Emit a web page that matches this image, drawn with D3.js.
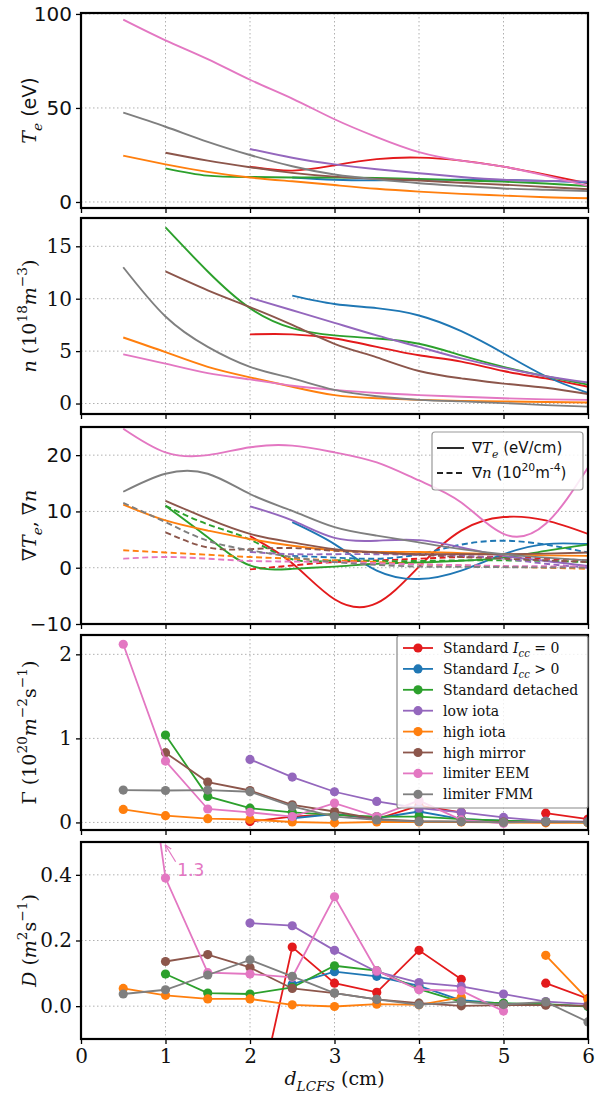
<!DOCTYPE html>
<html>
<head>
<meta charset="utf-8">
<script src="https://cdn.jsdelivr.net/npm/d3@7"></script>
<style>
body { margin: 0; background: #fff; }
svg { display: block; }
</style>
</head>
<body>
<svg id="chart" width="601" height="1097"></svg>
<script>
// Distance from the LCFS (cm), shared by every series
const xs = [0.5, 1, 1.5, 2, 2.5, 3, 3.5, 4, 4.5, 5, 5.5, 6];
const xTicks = [0, 1, 2, 3, 4, 5, 6];

// Series order: Std Icc=0, Std Icc>0, Std detached, low iota, high iota, high mirror, limiter EEM, limiter FMM
const seriesNames = ["Standard", "Standard", "Standard detached", "low iota", "high iota", "high mirror", "limiter EEM", "limiter FMM"];
const seriesColors = ["#e31a1c", "#1f77b4", "#2ca02c", "#9467bd", "#ff7f0e", "#8c564b", "#e377c2", "#7f7f7f"];

const n = null;
// Te (eV)
const teValues = [
    [n, n, n, 18.8, 16.7, 19.5, 22.8, 23.6, 22, 18.8, 14.5, 9.9],
    [n, n, n, n, 13, 11.8, 11.5, 11.8, 11.9, 11.7, 11.2, 10.3],
    [n, 17.9, 14, 13.3, 13, 13, 12.8, 12.3, 11.5, 10.8, 9.8, 8.5],
    [n, n, n, 28.2, 23.5, 20, 17.4, 15.3, 13.3, 11.8, 11.2, 10.8],
    [24.6, 20, 16, 13, 11, 9, 7, 5.5, 4.3, 3.4, 2.5, 2],
    [n, 26.2, 22, 18.5, 15.5, 13.5, 12.3, 11.4, 10.2, 9.2, 8, 6.8],
    [97, 86, 76, 65, 55, 44, 34.5, 26.5, 22, 18.8, 14, 8.5],
    [47.5, 40, 32, 25, 19, 14.6, 12, 10, 8.5, 7.2, 6.5, 5.8]
];
// n (1e18 m^-3)
const densValues = [
    [n, n, n, 6.6, 6.6, 6.2, 5.4, 4.6, 4.0, 3.1, 2.4, 1.6],
    [n, n, n, n, 10.3, 9.5, 9.1, 8.4, 6.9, 4.8, 2.6, 1.0],
    [n, 16.8, 12.6, 9.1, 7.2, 6.5, 6.2, 5.7, 4.6, 3.5, 2.6, 1.8],
    [n, n, n, 10.1, 8.9, 7.7, 6.5, 5.4, 4.3, 3.4, 2.6, 2.0],
    [6.3, 4.9, 3.5, 2.5, 1.6, 0.8, 0.5, 0.35, 0.25, 0.2, 0.15, 0.1],
    [n, 12.6, 10.8, 9.2, 7.5, 5.7, 4.4, 3.1, 2.4, 1.9, 1.5, 0.9],
    [4.7, 3.8, 2.9, 2.3, 1.7, 1.3, 1.0, 0.8, 0.65, 0.5, 0.4, 0.35],
    [13, 8.3, 5.4, 3.5, 2.4, 1.3, 0.7, 0.35, 0.2, 0.04, -0.15, -0.3]
];
// grad Te (eV/cm), solid
const gradTeValues = [
    [n, n, n, 5.6, 0.8, -5.6, -6.3, 0.2, 6.6, 9.0, 8.4, 6.0],
    [n, n, n, n, 8.1, 4.2, -0.5, -2.0, -0.5, 2.4, 4.2, 4.2],
    [n, 11.0, 5.4, 0.4, -0.2, 0.2, 0.7, 0.95, 1.25, 1.8, 3.0, 4.1],
    [n, n, n, 10.9, 8.4, 5.3, 4.8, 4.9, 3.6, 2.1, 1.2, 0.3],
    [11.2, 8.4, 6.6, 5.1, 3.9, 3.1, 2.8, 2.8, 2.6, 2.4, 2.2, 2.1],
    [n, 11.9, 8.7, 6.0, 4.5, 3.3, 2.7, 2.4, 2.4, 2.4, 2.5, 2.7],
    [24.7, 20.5, 20.0, 21.4, 21.7, 20.5, 18.7, 15.5, 11.6, 6.0, 7.8, 17.8],
    [13.5, 16.7, 16.7, 13.1, 10.1, 7.2, 5.7, 4.5, 3.3, 2.4, 1.8, 1.3]
];
// grad n (1e20 m^-4), dashed
const gradNValues = [
    [n, n, n, -0.3, 0.4, 1.0, 1.3, 1.6, 1.9, 1.9, 1.6, 1.3],
    [n, n, n, n, 2.1, 1.8, 1.6, 2.4, 4.1, 4.8, 4.1, 2.7],
    [n, 11.0, 7.7, 5.0, 1.5, 1.3, 1.2, 1.2, 1.3, 1.3, 1.2, 1.0],
    [n, n, n, 2.8, 2.4, 2.4, 2.4, 2.3, 2.1, 1.6, 0.7, 0.0],
    [3.1, 2.7, 2.3, 1.9, 1.6, 1.3, 1.0, 0.6, 0.4, 0.2, 0.0, -0.2],
    [n, 6.3, 3.6, 3.3, 3.5, 3.0, 2.7, 2.3, 1.9, 1.6, 1.3, 1.0],
    [1.6, 1.9, 1.6, 1.2, 1.1, 1.0, 0.8, 0.6, 0.45, 0.3, 0.25, 0.2],
    [11.5, 8.1, 4.8, 3.1, 1.9, 1.0, 0.5, 0.2, 0.15, 0.1, 0.05, 0.0]
];
// Gamma (1e20 m^-2 s^-1)
const fluxValues = [
    [n, n, n, 0.01, 0.07, 0.1, 0.04, 0.2, 0.12, n, 0.11, 0.04],
    [n, n, n, n, 0.05, 0.1, 0.05, 0.13, 0.04, 0.02, 0.01, 0.005],
    [n, 1.04, 0.31, 0.17, 0.12, 0.09, 0.07, 0.07, 0.04, 0.02, 0.01, 0.0],
    [n, n, n, 0.75, 0.54, 0.365, 0.25, 0.17, 0.12, 0.06, 0.015, 0.01],
    [0.155, 0.08, 0.045, 0.035, 0.005, -0.005, 0.005, 0.005, 0.005, 0, -0.005, -0.005],
    [n, 0.83, 0.48, 0.38, 0.21, 0.13, 0.04, 0.015, 0.01, 0.005, 0.005, 0.005],
    [2.12, 0.73, 0.16, 0.12, 0.07, 0.23, 0.07, 0.26, 0.03, -0.01, n, n],
    [0.385, 0.38, 0.385, 0.365, 0.19, 0.07, 0.03, 0.01, 0.01, 0, 0.01, 0]
];
// D (m^2 s^-1)
const diffValues = [
    [n, n, n, -0.4, 0.18, 0.07, 0.042, 0.17, 0.082, n, 0.07, 0.023],
    [n, n, n, n, 0.067, 0.105, 0.091, 0.062, 0.018, 0.008, 0.005, 0.0],
    [n, 0.098, 0.04, 0.037, 0.057, 0.123, 0.108, 0.052, 0.013, 0.009, 0.006, -0.001],
    [n, n, n, 0.253, 0.245, 0.17, 0.105, 0.072, 0.06, 0.037, 0.014, 0.006],
    [0.054, 0.033, 0.022, 0.022, 0.004, -0.001, 0.006, 0.004, 0.027, n, 0.155, 0.02],
    [n, 0.136, 0.157, 0.118, 0.054, 0.04, 0.021, 0.009, 0.001, 0.003, 0.003, 0.001],
    [1.3, 0.39, 0.102, 0.098, 0.088, 0.333, 0.108, 0.05, 0.047, -0.015, n, n],
    [0.037, 0.05, 0.095, 0.141, 0.091, 0.04, 0.021, 0.004, 0.014, 0.005, 0.013, -0.048]
];

const teTicks = [0, 50, 100];
const densTicks = [0, 5, 10, 15];
const gradTicks = [-10, 0, 10, 20];
const fluxTicks = [0, 1, 2];
const diffTicks = [0, 0.2, 0.4];

const SANS = "DejaVu Sans, sans-serif";
const SERIF = "DejaVu Serif, serif";

const svg = d3.select("#chart");
const x = d3.scaleLinear().domain([0, 6]).range([81, 588]);

// rich text helper: pieces [{t, it, sub, sup, font}]
function richText(sel, pieces, baseFont, baseSize) {
    let shift = 0;
    pieces.forEach(p => {
        const target = p.sub ? 0.3 : p.sup ? -0.45 : 0;
        const sz = (p.sub || p.sup) ? baseSize * 0.72 : baseSize;
        sel.append("tspan")
            .attr("dy", ((target - shift) * baseSize).toFixed(2))
            .style("font-family", p.font || baseFont)
            .style("font-style", p.it ? "italic" : "normal")
            .style("font-size", sz + "px")
            .text(p.t);
        shift = target;
    });
}

function makePanel(top, bottom, domain, ticks, fmt, tickFont, showX) {
    const y = d3.scaleLinear().domain(domain).range([bottom, top]);
    const id = "clip" + top;
    svg.append("clipPath").attr("id", id).append("rect")
        .attr("x", x(0)).attr("y", top)
        .attr("width", x(6) - x(0)).attr("height", bottom - top);

    const grid = svg.append("g")
        .attr("stroke", "#b0b0b0")
        .attr("stroke-width", 1)
        .attr("stroke-dasharray", "1.5,2.5");
    grid.selectAll(".vx").data(xTicks.slice(1, -1)).join("line")
        .attr("x1", d => x(d)).attr("x2", d => x(d))
        .attr("y1", top).attr("y2", bottom);
    grid.selectAll(".hy").data(ticks).join("line")
        .attr("x1", x(0)).attr("x2", x(6))
        .attr("y1", d => y(d)).attr("y2", d => y(d));

    const plot = svg.append("g").attr("clip-path", `url(#${id})`);
    const over = svg.append("g");

    const yAxis = over.append("g")
        .attr("transform", `translate(${x(0)},0)`)
        .call(d3.axisLeft(y).tickValues(ticks).tickFormat(fmt).tickSize(5).tickPadding(4));
    const xAxis = over.append("g")
        .attr("transform", `translate(0,${bottom})`)
        .call(d3.axisBottom(x).tickValues(xTicks).tickFormat(showX ? d3.format("d") : "").tickSize(5).tickPadding(5));
    [yAxis, xAxis].forEach(a => {
        a.select(".domain").remove();
        a.selectAll("line").attr("stroke", "#000").attr("stroke-width", 1.3);
        a.selectAll("text").style("font-family", tickFont).style("font-size", "20px").attr("fill", "#111");
    });
    over.append("rect")
        .attr("x", x(0)).attr("y", top)
        .attr("width", x(6) - x(0)).attr("height", bottom - top)
        .attr("fill", "none").attr("stroke", "#000").attr("stroke-width", 2.2);

    return { y, plot, over, top, bottom };
}

function rows(vals) {
    return xs.map((d, i) => ({ x: d, v: vals[i] }));
}

function drawCurve(panel, vals, color, dash) {
    const line = d3.line()
        .defined(d => d.v != null)
        .x(d => x(d.x)).y(d => panel.y(d.v))
        .curve(d3.curveNatural);
    panel.plot.append("path")
        .datum(rows(vals))
        .attr("fill", "none")
        .attr("stroke", color)
        .attr("stroke-width", 1.9)
        .attr("stroke-dasharray", dash || null)
        .attr("d", line);
}

function drawMarkers(panel, values) {
    const line = d3.line()
        .defined(d => d.v != null)
        .x(d => x(d.x)).y(d => panel.y(d.v));
    values.forEach((vals, i) => {
        const data = rows(vals);
        panel.plot.append("path")
            .datum(data)
            .attr("fill", "none")
            .attr("stroke", seriesColors[i])
            .attr("stroke-width", 1.8)
            .attr("d", line);
        panel.plot.selectAll(null)
            .data(data.filter(d => d.v != null))
            .join("circle")
            .attr("cx", d => x(d.x)).attr("cy", d => panel.y(d.v))
            .attr("r", 4.6)
            .attr("fill", seriesColors[i]);
    });
}

function yLabel(panel, xpos, pieces, font) {
    const t = svg.append("text")
        .attr("transform", `translate(${xpos},${(panel.top + panel.bottom) / 2}) rotate(-90)`)
        .attr("text-anchor", "middle")
        .attr("fill", "#111");
    richText(t, pieces, font, 19);
}

// Panels
const p1 = makePanel(13, 208, [-3.2, 100.5], teTicks, d3.format("d"), SANS, false);
const p2 = makePanel(218, 414, [-1, 17.7], densTicks, d3.format("d"), SERIF, false);
const p3 = makePanel(427, 624, [-10, 25], gradTicks, d3.format("d"), SANS, false);
const p4 = makePanel(635, 830, [-0.09, 2.23], fluxTicks, d3.format("d"), SERIF, false);
const p5 = makePanel(842, 1039, [-0.1, 0.5], diffTicks, d3.format(".1f"), SERIF, true);

teValues.forEach((vals, i) => drawCurve(p1, vals, seriesColors[i]));
densValues.forEach((vals, i) => drawCurve(p2, vals, seriesColors[i]));
gradTeValues.forEach((vals, i) => {
    drawCurve(p3, vals, seriesColors[i]);
    drawCurve(p3, gradNValues[i], seriesColors[i], "6,3.5");
});
drawMarkers(p4, fluxValues);
drawMarkers(p5, diffValues);

// Axis labels
yLabel(p1, 36, [{ t: "T", it: true, font: SERIF }, { t: "e", it: true, sub: true, font: SERIF }, { t: " (eV)" }], SANS);
yLabel(p2, 36, [{ t: "n", it: true }, { t: " (10" }, { t: "18", sup: true }, { t: "m", it: true }, { t: "−3", sup: true }, { t: ")" }], SERIF);
yLabel(p3, 36, [{ t: "∇" }, { t: "T", it: true }, { t: "e", it: true, sub: true }, { t: ", ∇" }, { t: "n", it: true }], SERIF);
yLabel(p4, 36, [{ t: "Γ (10" }, { t: "20", sup: true }, { t: "m", it: true }, { t: "−2", sup: true }, { t: "s" }, { t: "−1", sup: true }, { t: ")" }], SERIF);
yLabel(p5, 36, [{ t: "D", it: true }, { t: " (" }, { t: "m", it: true }, { t: "2", sup: true }, { t: "s" }, { t: "−1", sup: true }, { t: ")" }], SERIF);

const xl = svg.append("text")
    .attr("x", (x(0) + x(6)) / 2).attr("y", 1085)
    .attr("text-anchor", "middle").attr("fill", "#111");
richText(xl, [{ t: "d", it: true }, { t: "LCFS", it: true, sub: true }, { t: " (cm)" }], SERIF, 19);

// Legend for the gradient panel
const lg3 = p3.over.append("g");
lg3.append("rect")
    .attr("x", 432).attr("y", 432).attr("width", 151).attr("height", 58).attr("rx", 3)
    .attr("fill", "#fff").attr("fill-opacity", 0.85)
    .attr("stroke", "#999").attr("stroke-width", 1.2);
[["", 448], ["6,3.5", 473]].forEach(([dash, yy]) => {
    lg3.append("line").attr("x1", 437).attr("x2", 464).attr("y1", yy).attr("y2", yy)
        .attr("stroke", "#222").attr("stroke-width", 1.9).attr("stroke-dasharray", dash || null);
});
richText(lg3.append("text").attr("x", 472).attr("y", 453).attr("fill", "#111"),
    [{ t: "∇", font: SANS }, { t: "T", it: true, font: SERIF }, { t: "e", it: true, sub: true, font: SERIF }, { t: " (eV/cm)" }], SANS, 15);
richText(lg3.append("text").attr("x", 472).attr("y", 478).attr("fill", "#111"),
    [{ t: "∇" }, { t: "n", it: true, font: SERIF }, { t: "  (10" }, { t: "20", sup: true }, { t: "m" }, { t: "-4", sup: true }, { t: ")" }], SANS, 15);

// Legend for the flux panel
const lg4 = p4.over.append("g");
lg4.append("rect")
    .attr("x", 397).attr("y", 636).attr("width", 191).attr("height", 172).attr("rx", 2)
    .attr("fill", "#fff").attr("fill-opacity", 0.8)
    .attr("stroke", "#888").attr("stroke-width", 1.2);
seriesNames.forEach((name, i) => {
    const yy = 648 + i * 20.9;
    lg4.append("line").attr("x1", 403).attr("x2", 433).attr("y1", yy).attr("y2", yy)
        .attr("stroke", seriesColors[i]).attr("stroke-width", 1.8);
    lg4.append("circle").attr("cx", 418).attr("cy", yy).attr("r", 4.6).attr("fill", seriesColors[i]);
    const t = lg4.append("text").attr("x", 443).attr("y", yy + 5).attr("fill", "#111");
    if (i < 2) {
        richText(t, [{ t: name + " " }, { t: "I", it: true }, { t: "cc", it: true, sub: true }, { t: i === 0 ? " = 0" : " > 0" }], SERIF, 14);
    } else {
        richText(t, [{ t: name }], SERIF, 14);
    }
});

// Annotation for the off-scale EEM point
const pink = seriesColors[6];
svg.append("defs").append("marker")
    .attr("id", "arrow").attr("viewBox", "0 0 10 10").attr("refX", 9).attr("refY", 5)
    .attr("markerWidth", 6).attr("markerHeight", 6).attr("orient", "auto")
    .append("path").attr("d", "M0,1 L10,5 L0,9").attr("fill", "none").attr("stroke", pink).attr("stroke-width", 1.5);
p5.over.append("line")
    .attr("x1", x(1.12)).attr("y1", p5.y(0.44))
    .attr("x2", x(1.0)).attr("y2", p5.y(0.49))
    .attr("stroke", pink).attr("stroke-width", 1.2).attr("marker-end", "url(#arrow)");
p5.over.append("text")
    .attr("x", x(1.14)).attr("y", p5.y(0.395))
    .style("font-family", SANS).style("font-size", "17px")
    .attr("fill", pink).text("1.3");
</script>
</body>
</html>
